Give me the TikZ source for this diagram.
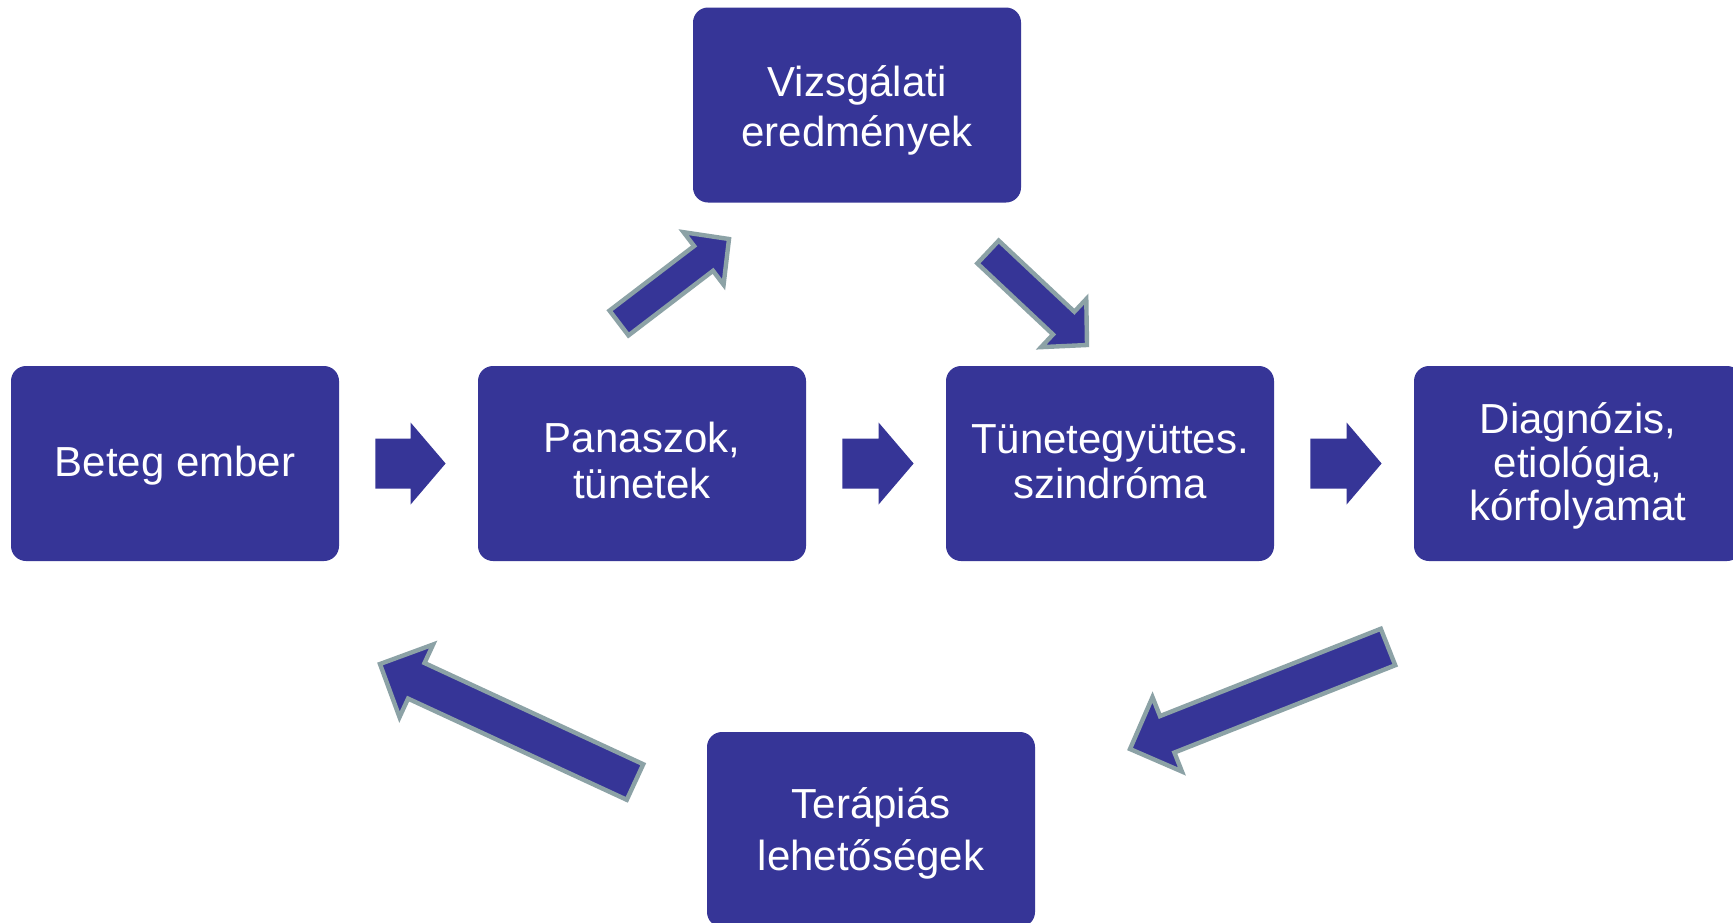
\documentclass[tikz,border=0pt]{standalone}
\usepackage{fontspec}
\setmainfont{Liberation Sans}
\usetikzlibrary{calc}
\definecolor{boxblue}{RGB}{54,53,151}
\definecolor{edgegray}{RGB}{140,162,166}
\tikzset{
  box/.style={fill=boxblue, rounded corners=7.5pt, minimum width=164pt, minimum height=97.5pt, inner sep=0pt},
  boxtext/.style={inner sep=0pt, text=white, align=center, font=\fontsize{21}{#1}\selectfont},
  boxtext/.default=22.75pt,
  fatarrow/.style={fill=boxblue, draw=edgegray, line width=2.2pt, line join=miter, miter limit=10},
  flatarrow/.style={fill=boxblue},
}
% #1 style, #2 tail, #3 tip, #4 shaft half width, #5 head half width, #6 head length
\newcommand{\blockarrow}[6]{%
  \coordinate (hb) at ($(#3)!#6!(#2)$);
  \path[#1] ($(#2)!#4!90:(#3)$) -- ($(hb)!#4!90:(#3)$) -- ($(hb)!#5!90:(#3)$) -- (#3)
    -- ($(hb)!#5!-90:(#3)$) -- ($(hb)!#4!-90:(#3)$) -- ($(#2)!#4!-90:(#3)$) -- cycle;
}
\begin{document}
\begin{tikzpicture}[x=0.5pt, y=-0.5pt]
\useasboundingbox (0,0) rectangle (1733,922);
\clip (0,0) rectangle (1733,922);
\fill[white] (0,0) rectangle (1733,922);

\node[box] (beteg) at (175,463.5) {};
\node[box] (panasz) at (642,463.5) {};
\node[box] (tunet) at (1110,463.5) {};
\node[box] (diag) at (1578,463.5) {};
\node[box] (vizsg) at (857,105) {};
\node[box] (terap) at (871,829.5) {};

\node[boxtext] (betegT) at ($(beteg.center)+(0,2.5)$) {Beteg ember};
\node[boxtext] (panaszT) at ($(panasz.center)+(0,-3)$) {Panaszok,\\tünetek};
\node[boxtext] (tunetT) at ($(tunet.center)+(0,-2)$) {Tünetegyüttes.\\szindróma};
\node[boxtext=21.75pt] (diagT) at ($(diag.center)+(0,2.5)$) {Diagnózis,\\etiológia,\\kórfolyamat};
\node[boxtext=25pt] (vizsgT) at ($(vizsg.center)+(0,5.8)$) {Vizsgálati\\eredmények};
\node[boxtext=25.75pt] (terapT) at ($(terap.center)+(0,3.7)$) {Terápiás\\lehetőségek};

% straight arrows between row boxes
\coordinate (t1) at ($(beteg.east)+(36,0)$);
\coordinate (p1) at ($(panasz.west)+(-32,0)$);
\blockarrow{flatarrow}{t1}{p1}{12.5pt}{20.5pt}{17.5pt}
\coordinate (t2) at ($(panasz.east)+(36,0)$);
\coordinate (p2) at ($(tunet.west)+(-32,0)$);
\blockarrow{flatarrow}{t2}{p2}{12.5pt}{20.5pt}{17.5pt}
\coordinate (t3) at ($(tunet.east)+(36,0)$);
\coordinate (p3) at ($(diag.west)+(-32,0)$);
\blockarrow{flatarrow}{t3}{p3}{12.5pt}{20.5pt}{17.5pt}

% diagonal outlined arrows
\coordinate (tl0) at (619,323);
\coordinate (tl1) at (729,239);
\blockarrow{fatarrow}{tl0}{tl1}{7.8pt}{16.5pt}{16pt}
\coordinate (tr0) at (988,252);
\coordinate (tr1) at (1087,345);
\blockarrow{fatarrow}{tr0}{tr1}{7.8pt}{16.5pt}{16pt}
\coordinate (br0) at (1388,647);
\coordinate (br1) at (1130,749);
\blockarrow{fatarrow}{br0}{br1}{9.8pt}{20pt}{20pt}
\coordinate (bl0) at (635,782);
\coordinate (bl1) at (380,664);
\blockarrow{fatarrow}{bl0}{bl1}{9.8pt}{20pt}{20pt}
\end{tikzpicture}
\end{document}
